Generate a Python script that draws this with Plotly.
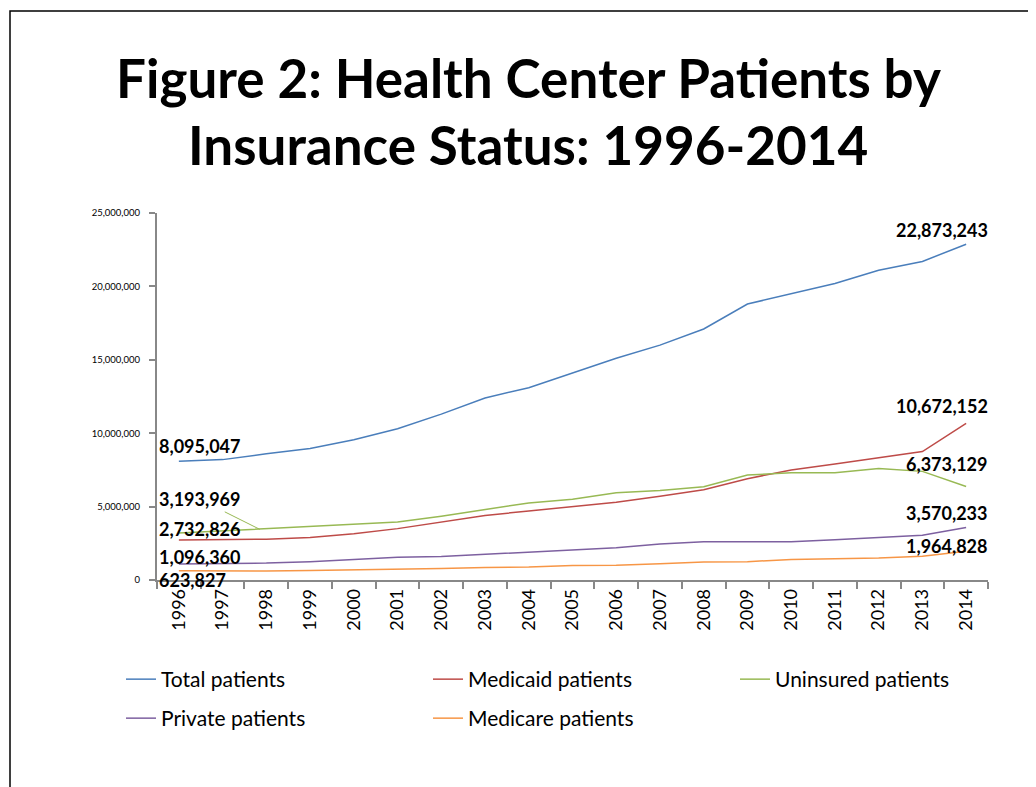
import plotly.graph_objects as go

years = [str(y) for y in range(1996, 2015)]

total = [8095047, 8200000, 8600000, 8950000, 9550000, 10300000, 11300000, 12400000, 13100000,
         14100000, 15100000, 16000000, 17100000, 18800000, 19500000, 20200000, 21100000, 21700000, 22873243]
medicaid = [2732826, 2750000, 2780000, 2900000, 3150000, 3500000, 3950000, 4400000, 4700000,
            5000000, 5300000, 5700000, 6150000, 6900000, 7500000, 7900000, 8300000, 8750000, 10672152]
uninsured = [3193969, 3350000, 3500000, 3650000, 3800000, 3950000, 4350000, 4800000, 5250000,
             5500000, 5950000, 6100000, 6350000, 7150000, 7300000, 7300000, 7600000, 7400000, 6373129]
private = [1096360, 1120000, 1150000, 1250000, 1380000, 1550000, 1600000, 1750000, 1900000,
           2050000, 2200000, 2450000, 2600000, 2600000, 2600000, 2750000, 2900000, 3050000, 3570233]
medicare = [623827, 600000, 620000, 650000, 680000, 760000, 780000, 850000, 880000,
            980000, 1000000, 1100000, 1220000, 1250000, 1400000, 1450000, 1500000, 1620000, 1964828]

names = ["Total patients", "Medicaid patients", "Uninsured patients", "Private patients", "Medicare patients"]
series = [total, medicaid, uninsured, private, medicare]
colors = ["#4A7EBB", "#BE4B48", "#98B954", "#7D60A0", "#F79646"]
legend_ids = ["legend", "legend", "legend", "legend2", "legend2"]

yticks = [0, 5000000, 10000000, 15000000, 20000000, 25000000]

fig = go.Figure()
for n, s, c, lg in zip(names, series, colors, legend_ids):
    fig.add_trace(go.Scatter(x=years, y=s, mode="lines", name=n, legend=lg,
                             line=dict(color=c, width=1.5)))

FONT = "Lato"
OFF = 8  # browser body margin
W, H = 1036 - OFF, 787 - OFF
# plot area in reference-pixel coordinates
RL, RR, RT, RB = 157, 988, 213, 580
L, R, T, B = RL - OFF, RR - OFF, RT - OFF, RB - OFF


def px(xref_px):
    return (xref_px - OFF - L) / (R - L)


def py(yref_px):
    return (B - (yref_px - OFF)) / (B - T)


leg_common = dict(orientation="h", xanchor="left", yanchor="top",
                  entrywidth=262, entrywidthmode="pixels", itemwidth=30,
                  font=dict(family=FONT, size=21, color="black"),
                  traceorder="normal", bgcolor="rgba(0,0,0,0)")

fig.update_layout(
    width=W, height=H,
    paper_bgcolor="white", plot_bgcolor="white",
    margin=dict(l=L, r=W - R, t=T, b=H - B, autoexpand=False),
    font=dict(family=FONT, color="black"),
    showlegend=True,
    legend=dict(x=px(121), y=py(659), **leg_common),
    legend2=dict(x=px(121), y=py(698), **leg_common),
)
fig.update_xaxes(type="category", range=[-0.5, 18.5], tickson="boundaries",
                 ticks="outside", ticklen=7, tickwidth=1.5, tickcolor="#888", showline=True,
                 linecolor="#888", linewidth=1.5, showgrid=False, tickangle=-90,
                 tickfont=dict(family=FONT, size=18, color="black"), zeroline=False)
fig.update_yaxes(range=[0, 25000000], tickvals=yticks,
                 ticktext=[f"{v:,}" + "\u00a0" * 3 for v in yticks], ticks="outside", ticklen=6,
                 tickwidth=1.5,
                 tickcolor="#888", showline=True, linecolor="#888", linewidth=1.5,
                 showgrid=False, zeroline=False,
                 tickfont=dict(family=FONT, size=9.5, color="black"))

# title
title_font = dict(family=FONT, size=53, color="black")
fig.add_annotation(text="<b>Figure 2: Health Center Patients by</b>", xref="paper", yref="paper",
                   x=px(528), y=py(77), showarrow=False, font=title_font,
                   xanchor="center", yanchor="middle")
fig.add_annotation(text="<b>Insurance Status: 1996-2014</b>", xref="paper", yref="paper",
                   x=px(528), y=py(144), showarrow=False, font=title_font,
                   xanchor="center", yanchor="middle")

lab_font = dict(family=FONT, size=18, color="black")
# left labels
left_shift = [15, 11, 33, 7, -9]
for s, ys in zip(series, left_shift):
    if s is uninsured:
        continue
    fig.add_annotation(x=-0.5, y=s[0], text=f"<b>{s[0]:,}</b>", showarrow=False, xanchor="left",
                       yanchor="middle", yshift=ys, font=lab_font)
# uninsured label with leader line
fig.add_annotation(x=1.85, y=3450000, text=f"<b>{uninsured[0]:,}</b>", showarrow=True, arrowhead=0,
                   arrowwidth=1, arrowcolor="#98B954", ax=-60, ay=-30, font=lab_font)
# right labels
right_shift = [14, 17, 22, 15, 5]
for s, ys in zip(series, right_shift):
    fig.add_annotation(x=18, y=s[-1], text=f"<b>{s[-1]:,}</b>", showarrow=False, xanchor="right",
                       xshift=24, yanchor="middle", yshift=ys, font=lab_font)

# outer border
fig.add_shape(type="rect", xref="paper", yref="paper",
              x0=px(10), x1=px(1060), y0=py(810), y1=py(11),
              line=dict(color="black", width=1.5), layer="below")

fig.write_html("out.html")
